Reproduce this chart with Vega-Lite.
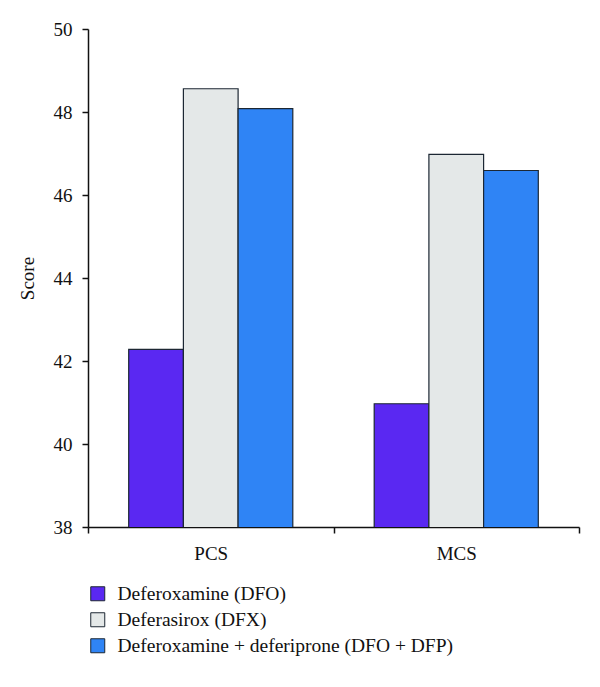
{
  "$schema": "https://vega.github.io/schema/vega-lite/v6.json",
  "width": 491,
  "height": 498,
  "autosize": "none",
  "padding": {"left": 88, "top": 29, "right": 21, "bottom": 160},
  "background": "white",
  "config": {
    "font": "Liberation Serif",
    "view": {"stroke": null},
    "axis": {"labelFont": "Liberation Serif", "titleFont": "Liberation Serif", "labelColor": "#111", "titleColor": "#111", "domainColor": "#111", "tickColor": "#111", "grid": false}
  },
  "data": {
    "values": [
      {"group": "PCS", "drug": "Deferoxamine (DFO)", "score": 42.28},
      {"group": "PCS", "drug": "Deferasirox (DFX)", "score": 48.56},
      {"group": "PCS", "drug": "Deferoxamine + deferiprone (DFO + DFP)", "score": 48.08},
      {"group": "MCS", "drug": "Deferoxamine (DFO)", "score": 40.97},
      {"group": "MCS", "drug": "Deferasirox (DFX)", "score": 46.98},
      {"group": "MCS", "drug": "Deferoxamine + deferiprone (DFO + DFP)", "score": 46.59}
    ]
  },
  "mark": {"type": "bar", "stroke": "#1c2733", "strokeWidth": 1.2, "clip": true},
  "encoding": {
    "x": {
      "field": "group", "type": "nominal", "sort": ["PCS", "MCS"],
      "scale": {"paddingInner": 0, "paddingOuter": 0},
      "axis": {"title": null, "labelAngle": 0, "tickBand": "extent", "tickSize": 6, "labelPadding": 11, "labelFontSize": 19, "labelFontWeight": "normal", "domainWidth": 1.5, "tickWidth": 1.5}
    },
    "xOffset": {
      "field": "drug", "type": "nominal",
      "sort": ["Deferoxamine (DFO)", "Deferasirox (DFX)", "Deferoxamine + deferiprone (DFO + DFP)"],
      "scale": {"paddingInner": 0, "paddingOuter": 0.744}
    },
    "y": {
      "field": "score", "type": "quantitative",
      "scale": {"domain": [38, 50], "nice": false, "zero": false},
      "axis": {"values": [38, 40, 42, 44, 46, 48, 50], "title": "Score", "titleFontSize": 19, "titleFontWeight": "normal", "titlePadding": 16, "labelFontSize": 19, "tickSize": 6, "labelPadding": 10, "domainWidth": 1.5, "tickWidth": 1.5}
    },
    "color": {
      "field": "drug", "type": "nominal",
      "sort": ["Deferoxamine (DFO)", "Deferasirox (DFX)", "Deferoxamine + deferiprone (DFO + DFP)"],
      "scale": {
        "domain": ["Deferoxamine (DFO)", "Deferasirox (DFX)", "Deferoxamine + deferiprone (DFO + DFP)"],
        "range": ["#5a28f2", "#e4e8e8", "#2f84f5"]
      },
      "legend": {
        "title": null, "orient": "none", "legendX": 0, "legendY": 555,
        "symbolType": "square", "symbolSize": 196, "symbolStrokeColor": "#1c2733", "symbolStrokeWidth": 1,
        "labelFontSize": 19.5, "labelOffset": 10, "rowPadding": 5, "padding": 0, "labelLimit": 500, "labelColor": "#111"
      }
    }
  }
}
